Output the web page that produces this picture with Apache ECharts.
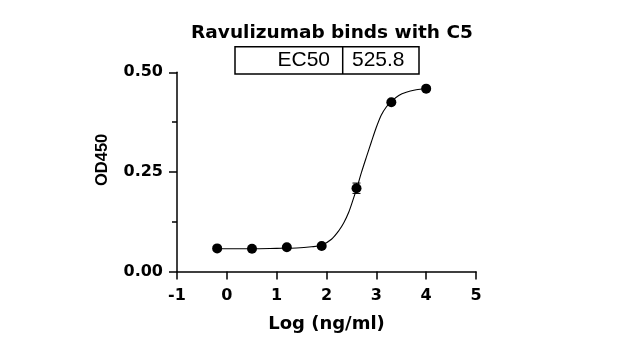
<!DOCTYPE html>
<html>
<head>
<meta charset="utf-8">
<script src="https://cdn.jsdelivr.net/npm/echarts@6/dist/echarts.min.js"></script>
<style>
html,body{margin:0;padding:0;background:#fff;}
#chart{width:620px;height:360px;}
</style>
</head>
<body>
<div id="chart"></div>
<script>
// ---- data ----
var titleText = 'Ravulizumab binds with C5';
var xAxisName = 'Log (ng/ml)';
var yAxisName = 'OD450';
var ec50Name = 'EC50';
var ec50Value = '525.8';

// measured points (log10 concentration, mean OD450, SD)
var xLog = [-0.194, 0.505, 1.204, 1.903, 2.602, 3.301, 4.0];
var od   = [0.058, 0.057, 0.061, 0.064, 0.209, 0.425, 0.459];
var sd   = [0.002, 0.002, 0.002, 0.002, 0.013, 0.003, 0.002];

// fitted curve
var fitX = [-0.194, 0.5, 1.0, 1.4, 1.7, 1.9, 2.1, 2.25, 2.35, 2.45, 2.53, 2.61, 2.7, 2.8, 2.9, 3.0, 3.1, 3.2, 3.3, 3.45, 3.6, 3.8, 4.0];
var fitY = [0.057, 0.057, 0.058, 0.059, 0.062, 0.066, 0.081, 0.103, 0.123, 0.150, 0.179, 0.210, 0.248, 0.287, 0.325, 0.362, 0.393, 0.413, 0.427, 0.442, 0.450, 0.456, 0.460];

// ---- chart ----
var chart = echarts.init(document.getElementById('chart'), null, {renderer: 'canvas'});
var pts = xLog.map(function (x, i) { return [x, od[i]]; });
var errs = xLog.map(function (x, i) { return [x, od[i] - sd[i], od[i] + sd[i]]; });
var fit = fitX.map(function (x, i) { return [x, fitY[i]]; });

var tickFont = {fontFamily: 'DejaVu Sans', fontWeight: 'bold', fontSize: 16, color: '#000'};

var option = {
  backgroundColor: '#fff',
  animation: false,
  title: {
    text: titleText,
    left: 327,
    textAlign: 'center',
    top: 19,
    textStyle: {fontFamily: 'DejaVu Sans', fontWeight: 'bold', fontSize: 18.5, color: '#000'}
  },
  grid: {left: 177, right: 144, top: 72.3, bottom: 88.5, containLabel: false},
  xAxis: {
    type: 'value',
    min: -1, max: 5, interval: 1,
    name: xAxisName,
    nameLocation: 'middle',
    nameGap: 44,
    nameTextStyle: {fontFamily: 'DejaVu Sans', fontWeight: 'bold', fontSize: 18, color: '#000'},
    axisLine: {show: true, onZero: false, lineStyle: {color: '#000', width: 1.5}},
    axisTick: {show: true, inside: false, length: 8, lineStyle: {color: '#000', width: 1.5}},
    axisLabel: Object.assign({margin: 16, formatter: function (v) { return String(v); }}, tickFont),
    splitLine: {show: false}
  },
  yAxis: {
    type: 'value',
    min: 0, max: 0.5, interval: 0.25,
    name: yAxisName,
    nameLocation: 'middle',
    nameGap: 66,
    nameTextStyle: {fontFamily: 'Liberation Sans', fontWeight: 'bold', fontSize: 16.5, color: '#000', padding: [0, 0, 0, 24]},
    axisLine: {show: true, onZero: false, lineStyle: {color: '#000', width: 1.5}},
    axisTick: {show: true, inside: false, length: 8, lineStyle: {color: '#000', width: 1.5}},
    minorTick: {show: true, splitNumber: 2, length: 5, lineStyle: {color: '#000', width: 1.5}},
    axisLabel: Object.assign({margin: 14, formatter: function (v) { return v.toFixed(2); }}, tickFont),
    splitLine: {show: false}
  },
  series: [
    {
      type: 'line',
      data: fit,
      smooth: 0.3,
      showSymbol: false,
      symbol: 'none',
      lineStyle: {color: '#000', width: 1.1},
      z: 2
    },
    {
      type: 'custom',
      data: errs,
      renderItem: function (params, api) {
        var x = api.value(0);
        var lo = api.coord([x, api.value(1)]);
        var hi = api.coord([x, api.value(2)]);
        var w = 4;
        return {
          type: 'group',
          children: [
            {type: 'line', shape: {x1: lo[0], y1: lo[1], x2: hi[0], y2: hi[1]}, style: {stroke: '#000', lineWidth: 1}},
            {type: 'line', shape: {x1: lo[0] - w, y1: lo[1], x2: lo[0] + w, y2: lo[1]}, style: {stroke: '#000', lineWidth: 1}},
            {type: 'line', shape: {x1: hi[0] - w, y1: hi[1], x2: hi[0] + w, y2: hi[1]}, style: {stroke: '#000', lineWidth: 1}}
          ]
        };
      },
      z: 3
    },
    {
      type: 'scatter',
      data: pts,
      symbol: 'circle',
      symbolSize: 10,
      itemStyle: {color: '#000', opacity: 1},
      z: 4
    }
  ],
  graphic: [
    {type: 'rect', shape: {x: 235, y: 46.7, width: 184, height: 27.3}, style: {fill: '#fff', stroke: '#000', lineWidth: 1.5}},
    {type: 'line', shape: {x1: 342.7, y1: 46.7, x2: 342.7, y2: 74}, style: {stroke: '#000', lineWidth: 1.5}},
    {type: 'text', x: 330, y: 60.5, style: {text: ec50Name, fill: '#000', font: '21px "Liberation Sans"', textAlign: 'right', textVerticalAlign: 'middle'}},
    {type: 'text', x: 352, y: 60.5, style: {text: ec50Value, fill: '#000', font: '21px "Liberation Sans"', textAlign: 'left', textVerticalAlign: 'middle'}}
  ]
};
chart.setOption(option);
</script>
</body>
</html>
